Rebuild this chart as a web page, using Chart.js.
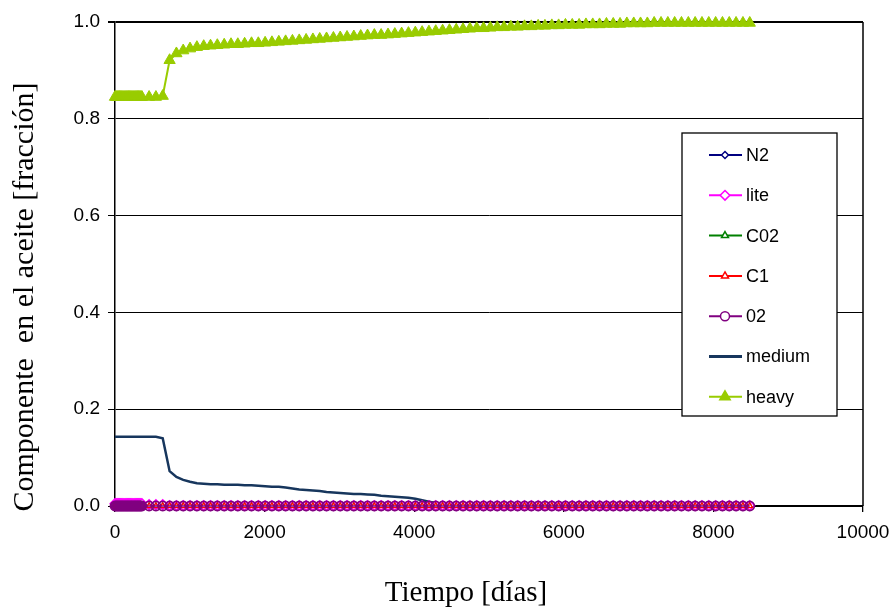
<!DOCTYPE html>
<html>
<head>
<meta charset="utf-8">
<script src="https://cdn.jsdelivr.net/npm/chart.js@4.4.0/dist/chart.umd.min.js"></script>
<style>
  html, body { margin: 0; padding: 0; background: #ffffff; }
  #wrap { width: 893px; height: 610px; }
</style>
</head>
<body>
<div id="wrap"><canvas id="c" width="893" height="610"></canvas></div>
<script>
// ---- data ----
const timeDays = [
  0, 15, 30, 45, 60, 75, 90, 105, 120, 135, 150, 165, 180, 195, 210, 225, 240, 255, 270, 285, 300, 315, 330, 345, 360,
  456, 547, 638, 730, 821, 912, 1003, 1095, 1186, 1277,
  1368, 1460, 1551, 1642, 1733, 1825, 1916, 2007, 2098, 2190,
  2281, 2372, 2463, 2555, 2646, 2737, 2828, 2920, 3011, 3102,
  3193, 3285, 3376, 3467, 3558, 3650, 3741, 3832, 3923, 4015,
  4106, 4197, 4288, 4380, 4471, 4562, 4653, 4745, 4836, 4927,
  5018, 5110, 5201, 5292, 5383, 5475, 5566, 5657, 5748, 5840,
  5931, 6022, 6113, 6205, 6296, 6387, 6478, 6570, 6661, 6752,
  6843, 6935, 7026, 7117, 7208, 7300, 7391, 7482, 7573, 7665,
  7756, 7847, 7938, 8030, 8121, 8212, 8303, 8395, 8486
];

const heavyFrac = [
  0.845, 0.845, 0.845, 0.845, 0.845, 0.845, 0.845, 0.845, 0.845, 0.845, 0.845, 0.845, 0.845,
  0.845, 0.845, 0.845, 0.845, 0.845, 0.845, 0.845, 0.845, 0.845, 0.845, 0.845, 0.845,
  0.845, 0.845, 0.847, 0.921, 0.935, 0.941, 0.945, 0.948, 0.950, 0.951,
  0.952, 0.953, 0.954, 0.954, 0.955, 0.956, 0.956, 0.957, 0.958, 0.959,
  0.960, 0.961, 0.962, 0.963, 0.964, 0.965, 0.966, 0.967, 0.968, 0.969,
  0.970, 0.971, 0.972, 0.973, 0.973, 0.974, 0.975, 0.976, 0.977, 0.978,
  0.979, 0.980, 0.981, 0.982, 0.983, 0.984, 0.985, 0.986, 0.987, 0.987,
  0.988, 0.989, 0.989, 0.990, 0.990, 0.991, 0.991, 0.992, 0.992, 0.993,
  0.993, 0.994, 0.994, 0.994, 0.995, 0.995, 0.995, 0.996, 0.996, 0.996,
  0.997, 0.997, 0.997, 0.997, 0.998, 0.998, 0.998, 0.998, 0.998, 0.998,
  0.998, 0.998, 0.998, 0.998, 0.998, 0.998, 0.998, 0.998, 0.998
];

const mediumFrac = [
  0.143, 0.143, 0.143, 0.143, 0.143, 0.143, 0.143, 0.143, 0.143, 0.143, 0.143, 0.143, 0.143,
  0.143, 0.143, 0.143, 0.143, 0.143, 0.143, 0.143, 0.143, 0.143, 0.143, 0.143, 0.143,
  0.143, 0.143, 0.140, 0.072, 0.060, 0.054, 0.050, 0.047, 0.046, 0.045,
  0.045, 0.044, 0.044, 0.044, 0.043, 0.043, 0.042, 0.041, 0.040, 0.040,
  0.038, 0.036, 0.034, 0.033, 0.032, 0.031, 0.029, 0.028, 0.027, 0.026,
  0.025, 0.025, 0.024, 0.023, 0.021, 0.020, 0.019, 0.018, 0.017, 0.015,
  0.012, 0.009, 0.006, 0.005, 0.004, 0.004, 0.003, 0.003, 0.003, 0.003,
  0.003, 0.003, 0.003, 0.003, 0.002, 0.002, 0.002, 0.002, 0.002, 0.002,
  0.002, 0.002, 0.002, 0.002, 0.002, 0.002, 0.002, 0.002, 0.002, 0.002,
  0.002, 0.002, 0.002, 0.002, 0.002, 0.002, 0.002, 0.002, 0.002, 0.002,
  0.002, 0.002, 0.002, 0.002, 0.002, 0.002, 0.002, 0.002, 0.002
];

const liteFrac = [
  0.005, 0.005, 0.005, 0.005, 0.005, 0.005, 0.005, 0.005, 0.005, 0.005, 0.005, 0.005, 0.005,
  0.005, 0.005, 0.005, 0.005, 0.005, 0.005, 0.005, 0.005, 0.005, 0.005, 0.005, 0.005,
  0.003, 0.003, 0.003, 0.001, 0.001, 0.001, 0.001, 0.001, 0.001, 0.001,
  0.001, 0.001, 0.001, 0.001, 0.001, 0.001, 0.001, 0.001, 0.001, 0.001,
  0.001, 0.001, 0.001, 0.001, 0.001, 0.001, 0.001, 0.001, 0.001, 0.001,
  0.001, 0.001, 0.001, 0.001, 0.001, 0.001, 0.001, 0.001, 0.001, 0.001,
  0.001, 0.001, 0.001, 0.001, 0.001, 0.001, 0.001, 0.001, 0.001, 0.001,
  0.001, 0.001, 0.001, 0.001, 0.001, 0.001, 0.001, 0.001, 0.001, 0.001,
  0.001, 0.001, 0.001, 0.001, 0.001, 0.001, 0.001, 0.001, 0.001, 0.001,
  0.001, 0.001, 0.001, 0.001, 0.001, 0.001, 0.001, 0.001, 0.001, 0.001,
  0.001, 0.001, 0.001, 0.001, 0.001, 0.001, 0.001, 0.001, 0.001
];

// N2, C02, C1 and 02 all sit on zero in the picture
const traceFrac = [
  0, 0, 0, 0, 0, 0, 0, 0, 0, 0, 0, 0, 0, 0, 0, 0, 0, 0, 0, 0, 0, 0, 0, 0, 0,
  0, 0, 0, 0, 0, 0, 0, 0, 0, 0,
  0, 0, 0, 0, 0, 0, 0, 0, 0, 0,
  0, 0, 0, 0, 0, 0, 0, 0, 0, 0,
  0, 0, 0, 0, 0, 0, 0, 0, 0, 0,
  0, 0, 0, 0, 0, 0, 0, 0, 0, 0,
  0, 0, 0, 0, 0, 0, 0, 0, 0, 0,
  0, 0, 0, 0, 0, 0, 0, 0, 0, 0,
  0, 0, 0, 0, 0, 0, 0, 0, 0, 0,
  0, 0, 0, 0, 0, 0, 0, 0, 0
];

const xTickStep = 2000;
const yTickStep = 0.2;
const xTitle = 'Tiempo [días]';
const yTitle = 'Componente  en el aceite [fracción]';

// ---- build ----
function pts(values) { return timeDays.map((t, i) => ({ x: t, y: values[i] })); }

const SANS = '"Liberation Sans", Arial, sans-serif';
const SERIF = '"Liberation Serif", "Times New Roman", serif';

const datasets = [
  { label: 'N2', data: pts(traceFrac), borderColor: '#000080', backgroundColor: '#ffffff',
    pointStyle: 'rectRot', pointRadius: 3, pointBorderWidth: 1.2, borderWidth: 1.5, order: 7,
    legendRadius: 3.5 },
  { label: 'lite', data: pts(liteFrac), borderColor: '#ff00ff', backgroundColor: '#ffffff',
    pointStyle: 'rectRot', pointRadius: 4.8, pointBorderWidth: 1.5, borderWidth: 1.5, order: 6,
    legendRadius: 4.8 },
  { label: 'C02', data: pts(traceFrac), borderColor: '#008000', backgroundColor: '#ffffff',
    pointStyle: 'triangle', pointRadius: 3, pointBorderWidth: 1.2, borderWidth: 1.5, order: 5,
    legendRadius: 4 },
  { label: 'C1', data: pts(traceFrac), borderColor: '#ff0000', backgroundColor: '#ffffff',
    pointStyle: 'triangle', pointRadius: 3.2, pointBorderWidth: 1.3, borderWidth: 1.5, order: 4,
    legendRadius: 4 },
  { label: '02', data: pts(traceFrac), borderColor: '#800080', backgroundColor: 'rgba(0,0,0,0)',
    pointStyle: 'circle', pointRadius: 4.6, pointBorderWidth: 1.7, borderWidth: 1.5, order: 3,
    legendRadius: 4.5 },
  { label: 'medium', data: pts(mediumFrac), borderColor: '#17365d', backgroundColor: '#17365d',
    pointStyle: false, pointRadius: 0, borderWidth: 2.5, order: 8,
    legendRadius: 0 },
  { label: 'heavy', data: pts(heavyFrac), borderColor: '#99cc00', backgroundColor: '#99cc00',
    pointStyle: 'triangle', pointRadius: 6.5, pointBorderWidth: 1, borderWidth: 2, order: 1,
    legendRadius: 6 }
];
datasets.forEach(d => {
  d.pointBackgroundColor = d.backgroundColor;
  d.pointBorderColor = d.borderColor;
  d.fill = false;
  d.tension = 0;
  d.showLine = true;
  d.clip = false;
});

function drawMarker(ctx, style, x, y, r) {
  ctx.beginPath();
  if (style === 'circle') {
    ctx.arc(x, y, r, 0, Math.PI * 2);
  } else if (style === 'triangle') {
    for (let k = 0; k < 3; k++) {
      const a = k * 2 * Math.PI / 3;
      const px = x + Math.sin(a) * r, py = y - Math.cos(a) * r;
      if (k === 0) ctx.moveTo(px, py); else ctx.lineTo(px, py);
    }
    ctx.closePath();
  } else if (style === 'rectRot') {
    ctx.moveTo(x, y - r); ctx.lineTo(x + r, y); ctx.lineTo(x, y + r); ctx.lineTo(x - r, y);
    ctx.closePath();
  }
  ctx.fill();
  ctx.stroke();
}

const decorPlugin = {
  id: 'decor',
  afterDraw(chart) {
    const ctx = chart.ctx;
    const a = chart.chartArea;
    ctx.save();
    // right frame
    ctx.strokeStyle = '#000';
    ctx.lineWidth = 1.5;
    ctx.beginPath();
    ctx.moveTo(a.right, a.top);
    ctx.lineTo(a.right, a.bottom);
    ctx.stroke();

    // legend box
    const bx = 682, by = 133, bw = 155, bh = 283;
    ctx.fillStyle = '#ffffff';
    ctx.fillRect(bx, by, bw, bh);
    ctx.strokeStyle = '#000';
    ctx.lineWidth = 1.3;
    ctx.strokeRect(bx, by, bw, bh);
    chart.data.datasets.forEach((d, i) => {
      const yy = 155 + i * 40.3;
      ctx.strokeStyle = d.borderColor;
      ctx.lineWidth = d.label === 'medium' ? 3 : 2;
      ctx.beginPath();
      ctx.moveTo(709, yy);
      ctx.lineTo(742, yy);
      ctx.stroke();
      if (d.pointStyle && d.legendRadius > 0) {
        ctx.fillStyle = d.label === '02' ? '#ffffff' : d.backgroundColor;
        ctx.strokeStyle = d.borderColor;
        ctx.lineWidth = 1.5;
        drawMarker(ctx, d.pointStyle, 725, yy, d.legendRadius);
      }
      ctx.fillStyle = '#000';
      ctx.font = '18px ' + SANS;
      ctx.textAlign = 'left';
      ctx.textBaseline = 'middle';
      ctx.fillText(d.label, 746, yy + 1);
    });

    // axis titles
    ctx.fillStyle = '#000';
    ctx.font = '29px ' + SERIF;
    ctx.textAlign = 'center';
    ctx.textBaseline = 'alphabetic';
    ctx.fillText(xTitle, 466, 601);
    ctx.font = '30px ' + SERIF;
    ctx.translate(33, 297);
    ctx.rotate(-Math.PI / 2);
    ctx.fillText(yTitle, 0, 0);
    ctx.restore();
  }
};

new Chart(document.getElementById('c'), {
  type: 'line',
  data: { datasets },
  options: {
    responsive: false,
    animation: false,
    devicePixelRatio: 1,
    layout: { padding: { top: 22, right: 30, left: 0, bottom: 0 } },
    plugins: { legend: { display: false }, tooltip: { enabled: false }, title: { display: false } },
    scales: {
      x: {
        type: 'linear', min: 0, max: 10000,
        ticks: { stepSize: xTickStep, callback: v => String(v), color: '#000',
                 font: { family: SANS, size: 19 }, padding: 9, maxRotation: 0 },
        grid: { drawOnChartArea: false, drawTicks: true, tickLength: 6, color: '#000', lineWidth: 1.3 },
        border: { color: '#000', width: 1.5 },
        afterFit: s => { s.height = 104; s.paddingLeft = 0; s.paddingRight = 0; }
      },
      y: {
        type: 'linear', min: 0, max: 1,
        ticks: { stepSize: yTickStep, callback: v => Number(v).toFixed(1), color: '#000',
                 font: { family: SANS, size: 19 }, padding: 8 },
        grid: { color: '#000', lineWidth: c => (c.tick && c.tick.value === 1 ? 2 : 1), tickLength: 7 },
        border: { color: '#000', width: 1.5 },
        afterFit: s => { s.width = 115; s.paddingTop = 0; s.paddingBottom = 0; }
      }
    }
  },
  plugins: [decorPlugin]
});
</script>
</body>
</html>
